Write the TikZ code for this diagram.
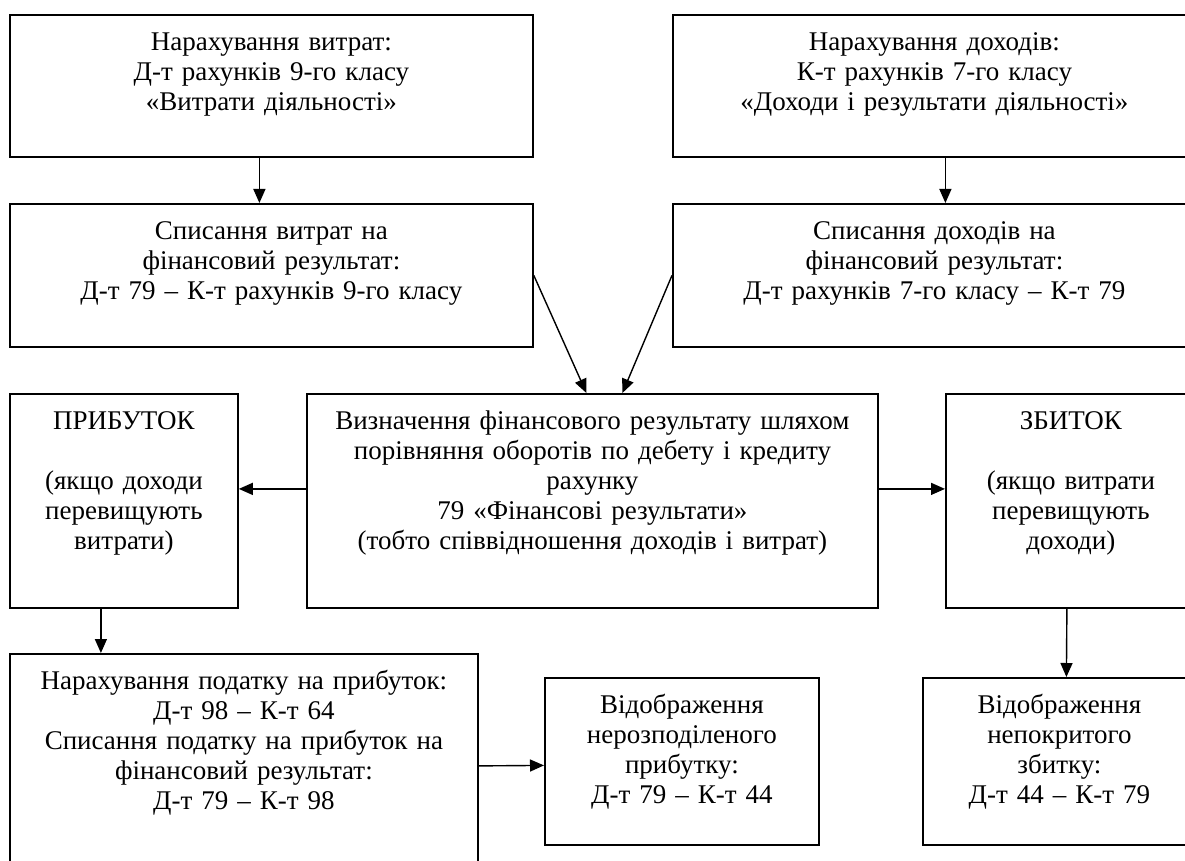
\documentclass[tikz,border=0pt]{standalone}
\usepackage{fontspec}
\setmainfont{Liberation Serif}
\usetikzlibrary{arrows.meta}

\begin{document}
\begin{tikzpicture}[x=1pt,y=1pt,
  blok/.style 2 args={draw=black, line width=1.8pt, inner sep=0pt, anchor=north west,
    align=center, text width=#1, text height=36pt, text depth=#2,
    font=\fontsize{27}{30}\selectfont},
  strl/.style={-{Triangle[length=14pt,width=12pt]}, line width=1.4pt}]
\useasboundingbox (0,0) rectangle (1185,-861);
\clip (0,0) rectangle (1185,-861);
\node[blok={523pt}{106pt}] (nv) at (9,-14) {Нарахування витрат:\\ Д-т рахунків 9-го класу\\ «Витрати діяльності»};
\node[blok={523pt}{106pt}] (nd) at (672,-14) {Нарахування доходів:\\ К-т рахунків 7-го класу\\ «Доходи і результати діяльності»};
\node[blok={523pt}{107pt}] (sv) at (9,-203) {Списання витрат на\\ фінансовий результат:\\ Д-т 79 – К-т рахунків 9-го класу};
\node[blok={523pt}{107pt}] (sd) at (672,-203) {Списання доходів на\\ фінансовий результат:\\ Д-т рахунків 7-го класу – К-т 79};
\node[blok={571pt}{178pt}] (res) at (306,-393) {Визначення фінансового результату шляхом\\ порівняння оборотів по дебету і кредиту\\ рахунку\\ 79 «Фінансові результати»\\ (тобто співвідношення доходів і витрат)};
\node[blok={228pt}{178pt}] (prib) at (9,-393) {ПРИБУТОК\\[30pt] (якщо доходи\\ перевищують\\ витрати)};
\node[blok={250pt}{178pt}] (zb) at (945,-393) {ЗБИТОК\\[30pt] (якщо витрати\\ перевищують\\ доходи)};
\node[blok={468pt}{186pt}] (pod) at (9,-653) {Нарахування податку на прибуток:\\ Д-т 98 – К-т 64\\ Списання податку на прибуток на\\ фінансовий результат:\\ Д-т 79 – К-т 98};
\node[blok={274pt}{131pt}] (nerozp) at (544,-677) {Відображення\\ нерозподіленого\\ прибутку:\\ Д-т 79 – К-т 44};
\node[blok={273pt}{131pt}] (nepokr) at (922,-677) {Відображення\\ непокритого\\ збитку:\\ Д-т 44 – К-т 79};
\draw[strl] ([xshift=-12pt]nv.south) -- ([xshift=-12pt]sv.north);
\draw[strl] ([xshift=11pt]nd.south) -- ([xshift=11pt]sd.north);
\draw[strl] (sv.east) -- ([xshift=-6pt]res.north);
\draw[strl] (sd.west) -- ([xshift=30pt]res.north);
\draw[strl] ([yshift=12pt]res.west) -- ([yshift=12pt]prib.east);
\draw[strl] ([yshift=12pt]res.east) -- ([yshift=12pt]zb.west);
\draw[strl] ([xshift=-23pt]prib.south) -- ([xshift=-143pt]pod.north);
\draw[strl] ([xshift=-4pt]zb.south) -- ([xshift=7pt]nepokr.north);
\draw[strl] ([yshift=-1pt]pod.east) -- ([yshift=-4pt]nerozp.west);
\end{tikzpicture}
\end{document}
